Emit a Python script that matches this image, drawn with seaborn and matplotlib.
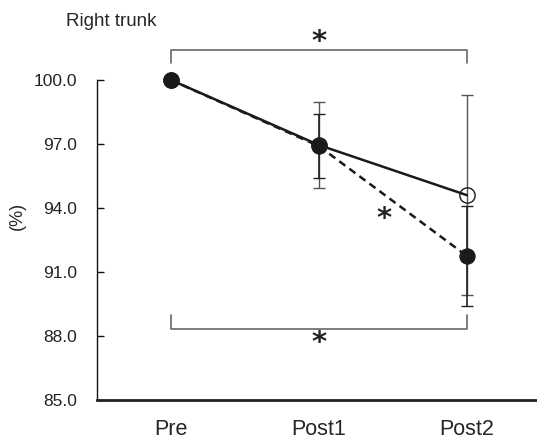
import numpy as np
import pandas as pd
import matplotlib
matplotlib.use("Agg")
import matplotlib.pyplot as plt
import seaborn as sns

# values (% of Pre)
timepoints = ["Pre", "Post1", "Post2"]
solid_mean = [100.0, 96.95, 94.6]
solid_err = [0.0, 2.0, 4.7]
dashed_mean = [100.0, 96.9, 91.75]
dashed_err = [0.0, 1.5, 2.35]
yticks = [85.0, 88.0, 91.0, 94.0, 97.0, 100.0]

x = np.arange(len(timepoints))
df = pd.DataFrame({
    "time": np.concatenate([x, x]),
    "value": solid_mean + dashed_mean,
    "group": ["solid"] * 3 + ["dashed"] * 3,
})

sns.set_style("white")
plt.rcParams["font.family"] = ["Liberation Sans", "DejaVu Sans"]

fig = plt.figure(figsize=(5.37, 4.4), dpi=100)
ax = fig.add_axes([0.1805, 0.0909, 0.8268, 0.7273])

# error bars (open series thin gray, filled series dark)
ax.errorbar(x, solid_mean, yerr=solid_err, fmt="none", ecolor="#555555",
            elinewidth=1.0, capsize=4, capthick=1.0, zorder=1, clip_on=False)
ax.errorbar(x, dashed_mean, yerr=dashed_err, fmt="none", ecolor="#222222",
            elinewidth=1.2, capsize=4, capthick=1.0, zorder=2, clip_on=False)

sns.lineplot(data=df[df.group == "solid"], x="time", y="value", ax=ax,
             color="#1a1a1a", lw=1.8, marker="o", markersize=11,
             markerfacecolor="none", markeredgecolor="#1a1a1a",
             markeredgewidth=1.0, zorder=3, clip_on=False)
sns.lineplot(data=df[df.group == "dashed"], x="time", y="value", ax=ax,
             color="#1a1a1a", lw=1.8, linestyle=(0, (3, 2)), marker="o",
             markersize=11, markerfacecolor="#1a1a1a",
             markeredgecolor="#1a1a1a", zorder=4, clip_on=False)

# significance brackets
br = "#666666"
ax.plot([0, 0, 2, 2], [100.78, 101.4, 101.4, 100.78], color=br, lw=1.2,
        clip_on=False)
ax.plot([0, 0, 2, 2], [88.98, 88.35, 88.35, 88.98], color=br, lw=1.2,
        clip_on=False)
star = dict(ha="center", va="center", fontsize=21, fontweight="bold",
            family="DejaVu Sans", color="#222222")
ax.text(1, 101.8, "*", **star)
ax.text(1, 87.65, "*", **star)
ax.text(1.44, 93.5, "*", **star)

ax.set_xlim(-0.5, 2.5)
ax.set_ylim(85, 100)
ax.set_xticks(x)
ax.set_xticklabels(timepoints, fontsize=15.5)
ax.set_xticks([0.5, 1.5], minor=True)
ax.tick_params(axis="x", which="major", length=0, pad=14)
ax.tick_params(axis="x", which="minor", direction="in", length=4,
               width=0.8, color="#333333")
ax.set_yticks(yticks)
ax.set_yticklabels([f"{v:.1f}" for v in yticks], fontsize=12.5,
                   color="#222222")
ax.tick_params(axis="y", direction="in", length=5, width=1.0, left=True,
               color="#111111", pad=14)
ax.set_xlabel("")
ax.set_ylabel("(%)", fontsize=13)
ax.yaxis.set_label_coords(-0.16, 0.575)

sns.despine(ax=ax)
ax.spines["left"].set_linewidth(1.0)
ax.spines["left"].set_color("#111111")
ax.spines["bottom"].set_linewidth(2.0)
ax.spines["bottom"].set_color("#222222")

fig.text(0.123, 0.95, "Right trunk", fontsize=13.5, ha="left", va="center")

fig.savefig("out.png", dpi=100)
